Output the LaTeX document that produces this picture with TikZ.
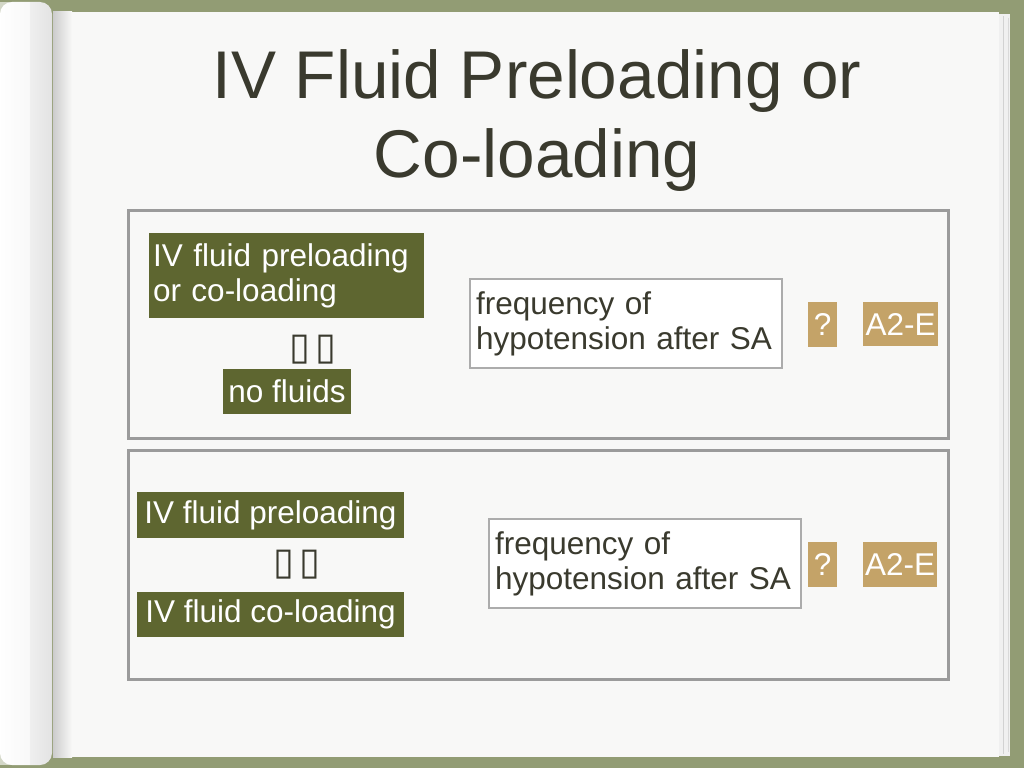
\documentclass[tikz,border=0pt]{standalone}
\usepackage{fontspec}
\setmainfont{Liberation Sans}
\newfontfamily\symfont{DejaVu Sans}
\definecolor{bggreen}{RGB}{146,156,116}
\definecolor{boxolive}{RGB}{94,102,48}
\definecolor{boxtan}{RGB}{196,163,104}
\definecolor{titlecol}{RGB}{58,58,46}
\definecolor{framegray}{RGB}{155,155,155}
\definecolor{boxgray}{RGB}{172,172,172}
\definecolor{paper}{RGB}{248,248,247}
\tikzset{
  boxfont/.style={font=\fontsize{31.5}{35}\selectfont},
  greenbox/.style={fill=boxolive, text=white, inner sep=0pt, boxfont},
  tanbox/.style={fill=boxtan, text=white, inner sep=0pt, boxfont},
  freqbox/.style={draw=boxgray, line width=2pt, fill=white, text=titlecol,
    inner xsep=6pt, inner ysep=0pt, align=left, text width=300pt, boxfont},
  panel/.style={draw=framegray, line width=3pt, inner sep=0pt},
  glyphs/.style={text=titlecol, inner sep=0pt, font=\symfont\fontsize{38}{38}\selectfont},
}
\begin{document}
\begin{tikzpicture}[x=1pt,y=-1pt]
\useasboundingbox (0,0) rectangle (1024,768);
% background
\fill[bggreen] (0,0) rectangle (1024,768);
% page stack on the right
\fill[gray!12] (990,14) rectangle (1010,756);
\draw[gray!35, line width=0.8pt] (1003,16) -- (1003,754);
\draw[gray!30, line width=0.8pt] (1008,18) -- (1008,752);
% main page
\fill[paper] (55,12) rectangle (999,757);
\shade[left color=gray!40, right color=paper] (53,12) rectangle (72,757);
% left page curl
\shade[left color=white, right color=gray!22, rounded corners=12pt] (0,2) rectangle (52,765);
\fill[white, opacity=0.6] (0,2) rectangle (30,765);
% title
\node[text=titlecol, align=center, inner sep=0pt, anchor=north,
  font=\fontsize{67.5}{79}\selectfont] (title) at (537,49)
  {IV Fluid Preloading or\\Co-loading};
% panels
\node[panel, minimum width=820pt, minimum height=228pt] (panel1) at (538,324) {};
\node[panel, minimum width=820pt, minimum height=229pt] (panel2) at (538,564.5) {};
% panel 1 content
\node[greenbox, align=left, text width=267pt, inner xsep=4pt, minimum height=85pt]
  (pre1) at (286.5,275.5) {IV fluid preloading\\or co-loading};
\node[glyphs] (sym1) at (313,350) {▯\hspace{5pt}▯};
\node[greenbox, minimum width=128pt, minimum height=45pt] (nof) at (287,391.5) {no fluids};
\node[freqbox, minimum height=89pt] (freq1) at (626,323.5) {frequency of\\hypotension after SA};
\node[tanbox, minimum width=29pt, minimum height=45pt] (q1) at (822.5,324.5) {?};
\node[tanbox, minimum width=75pt, minimum height=44pt] (ae1) at (900.5,324) {A2-E};
% panel 2 content
\node[greenbox, minimum width=267pt, minimum height=46pt] (pre2) at (270.5,515) {IV fluid preloading};
\node[glyphs] (sym2) at (297,565) {▯\hspace{5pt}▯};
\node[greenbox, minimum width=267pt, minimum height=45pt] (co2) at (270.5,614.5) {IV fluid co-loading};
\node[freqbox, minimum height=89pt] (freq2) at (645,563.5) {frequency of\\hypotension after SA};
\node[tanbox, minimum width=29pt, minimum height=45pt] (q2) at (822.5,564.5) {?};
\node[tanbox, minimum width=74pt, minimum height=45pt] (ae2) at (900,564.5) {A2-E};
\end{tikzpicture}
\end{document}
